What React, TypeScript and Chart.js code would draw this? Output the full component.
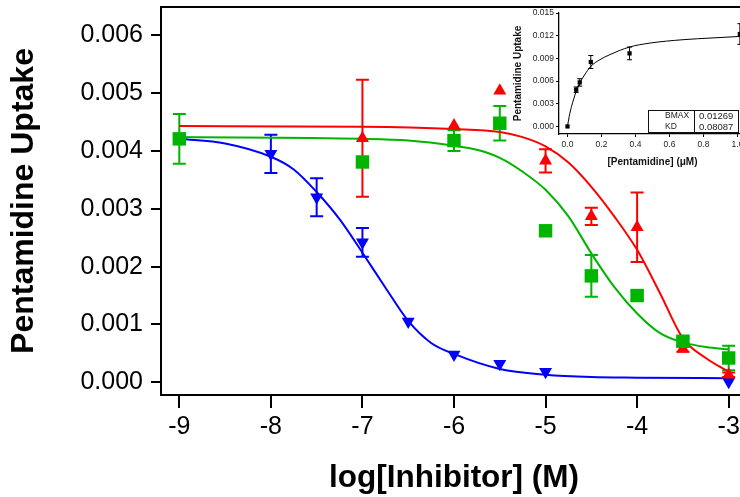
import React, { useEffect, useRef } from "react";
import { Chart, registerables } from "chart.js";

Chart.register(...registerables);

const FONT = '"Liberation Sans", Arial, Helvetica, sans-serif';

// ---------- Main chart: axes ----------
const xTickValues = [-9, -8, -7, -6, -5, -4, -3];
const yTickValues = [0, 0.001, 0.002, 0.003, 0.004, 0.005, 0.006];
const xTitle = "log[Inhibitor] (M)";
const yTitle = "Pentamidine Uptake";

// ---------- Red (triangle up) ----------
const redX = [-7, -6, -5.5, -5, -4.5, -4, -3.5, -3];
const redY = [0.00422, 0.00444, 0.00504, 0.00383, 0.00287, 0.00268, 0.00058, 0.00013];
const redErr = [0.00101, 0, 0, 0.0002, 0.00015, 0.0006, 0.00005, 0.00004];
const redFitX = [-9, -7, -6, -5.5, -5.25, -5, -4.75, -4.5, -4.25, -4, -3.75, -3.5, -3.25, -3];
const redFitY = [0.00443, 0.00442, 0.00438, 0.00433, 0.00424, 0.00408, 0.0038, 0.00338, 0.00287, 0.00229, 0.00154, 0.00076, 0.00042, 0.00018];

// ---------- Green (square) ----------
const greenX = [-9, -7, -6, -5.5, -5, -4.5, -4, -3.5, -3];
const greenY = [0.00421, 0.00381, 0.00418, 0.00448, 0.00262, 0.00184, 0.0015, 0.00071, 0.00042];
const greenErr = [0.00043, 0, 0.00018, 0.0003, 0.00006, 0.00036, 0.00008, 0.00007, 0.00021];
const greenFitX = [-9, -7, -6.5, -6, -5.75, -5.5, -5.25, -5, -4.75, -4.5, -4.25, -4, -3.75, -3.5, -3.25, -3];
const greenFitY = [0.00424, 0.00421, 0.00418, 0.00409, 0.00402, 0.00388, 0.00364, 0.00333, 0.00287, 0.00223, 0.00165, 0.00119, 0.00085, 0.00069, 0.00061, 0.00057];

// ---------- Blue (triangle down) ----------
const blueX = [-8, -7.5, -7, -6.5, -6, -5.5, -5, -3];
const blueY = [0.00395, 0.0032, 0.00242, 0.00105, 0.00048, 0.00032, 0.00018, 0.00001];
const blueErr = [0.00033, 0.00033, 0.00025, 0, 0, 0, 0, 0];
const blueFitX = [-9, -8.5, -8, -7.75, -7.5, -7.25, -7, -6.75, -6.5, -6.25, -6, -5.5, -5, -4.5, -4, -3];
const blueFitY = [0.00421, 0.00413, 0.0039, 0.00368, 0.00329, 0.00282, 0.00224, 0.00164, 0.00106, 0.00068, 0.00049, 0.00023, 0.00013, 0.00009, 0.00008, 0.00007];

// ---------- Inset ----------
const insetXTicks = [0, 0.2, 0.4, 0.6, 0.8, 1.0];
const insetYTicks = [0, 0.003, 0.006, 0.009, 0.012, 0.015];
const insetXTitle = "[Pentamidine] (\u03bcM)";
const insetYTitle = "Pentamidine Uptake";
const insetX = [0, 0.051, 0.072, 0.137, 0.365, 1.014];
const insetY = [0, 0.00486, 0.00582, 0.00852, 0.00966, 0.01222];
const insetErr = [0, 0.00036, 0.00049, 0.00086, 0.00084, 0.00137];
const insetFitX = [0, 0.01, 0.024, 0.051, 0.072, 0.1, 0.137, 0.19, 0.25, 0.365, 0.484, 0.68, 0.85, 1.03];
const insetFitY = [0, 0.00132, 0.00265, 0.00463, 0.00573, 0.0068, 0.00794, 0.00882, 0.0095, 0.0105, 0.01102, 0.01147, 0.0117, 0.01192];
const tableLabels = ["BMAX", "KD"];
const tableValues = ["0.01269", "0.08087"];

const RED = "#ff0000";
const GREEN = "#00b400";
const BLUE = "#0000ff";

const pts = (xs: number[], ys: number[]) => xs.map((x, i) => ({ x, y: ys[i] }));

type ErrSpec = { ds: number; err: number[]; color: string; width: number; cap: number };

const errorBarsPlugin = (specs: ErrSpec[]) => ({
  id: "errorBars",
  beforeDatasetsDraw(chart: any) {
    const { ctx, chartArea, scales } = chart;
    ctx.save();
    ctx.beginPath();
    ctx.rect(chartArea.left, chartArea.top, chartArea.right - chartArea.left, chartArea.bottom - chartArea.top);
    ctx.clip();
    for (const s of specs) {
      const data = chart.data.datasets[s.ds].data as { x: number; y: number }[];
      ctx.strokeStyle = s.color;
      ctx.lineWidth = s.width;
      data.forEach((p, i) => {
        const e = s.err[i];
        if (!e) return;
        const x = scales.x.getPixelForValue(p.x);
        const y1 = scales.y.getPixelForValue(p.y + e);
        const y2 = scales.y.getPixelForValue(p.y - e);
        ctx.beginPath();
        ctx.moveTo(x, y1);
        ctx.lineTo(x, y2);
        ctx.moveTo(x - s.cap, y1);
        ctx.lineTo(x + s.cap, y1);
        ctx.moveTo(x - s.cap, y2);
        ctx.lineTo(x + s.cap, y2);
        ctx.stroke();
      });
    }
    ctx.restore();
  },
});

const topFramePlugin = {
  id: "topFrame",
  afterDraw(chart: any) {
    const { ctx, chartArea } = chart;
    ctx.save();
    ctx.strokeStyle = "#000";
    ctx.lineWidth = 2;
    ctx.beginPath();
    ctx.moveTo(chartArea.left - 1, chartArea.top);
    ctx.lineTo(chartArea.right, chartArea.top);
    ctx.stroke();
    ctx.restore();
  },
};

const tablePlugin = {
  id: "fitTable",
  afterDraw(chart: any) {
    const { ctx } = chart;
    const left = 158, top = 110, w = 90, h = 22, div = 204;
    ctx.save();
    ctx.strokeStyle = "#111";
    ctx.lineWidth = 1;
    ctx.strokeRect(left + 0.5, top + 0.5, w, h);
    ctx.beginPath();
    ctx.moveTo(div + 0.5, top);
    ctx.lineTo(div + 0.5, top + h);
    ctx.stroke();
    ctx.fillStyle = "#222";
    ctx.textBaseline = "middle";
    ctx.textAlign = "left";
    tableLabels.forEach((t, i) => {
      ctx.font = `8.5px ${FONT}`;
      ctx.fillText(t, 175, 116 + i * 11);
      ctx.font = `9.5px ${FONT}`;
      ctx.fillText(tableValues[i], 209, 116 + i * 11);
    });
    ctx.restore();
  },
};

function mainConfig(): any {
  const tickFont = { family: FONT, size: 25 };
  const titleFont = { family: FONT, size: 31.5, weight: "bold" as const };
  return {
    type: "line",
    data: {
      datasets: [
        {
          data: pts(greenX, greenY), showLine: false, order: 1,
          pointStyle: "rect", pointRadius: 9.5, pointBackgroundColor: GREEN, pointBorderColor: GREEN, pointBorderWidth: 0,
        },
        {
          data: pts(redX, redY), showLine: false, order: 2,
          pointStyle: "triangle", pointRadius: 7.5, pointBackgroundColor: RED, pointBorderColor: RED, pointBorderWidth: 0,
        },
        {
          data: pts(blueX, blueY), showLine: false, order: 3,
          pointStyle: "triangle", pointRotation: 180, pointRadius: 7.5, pointBackgroundColor: BLUE, pointBorderColor: BLUE, pointBorderWidth: 0,
        },
        {
          data: pts(greenFitX, greenFitY), order: 4, borderColor: GREEN, borderWidth: 2, pointRadius: 0,
          cubicInterpolationMode: "monotone", fill: false,
        },
        {
          data: pts(redFitX, redFitY), order: 5, borderColor: RED, borderWidth: 2, pointRadius: 0,
          cubicInterpolationMode: "monotone", fill: false,
        },
        {
          data: pts(blueFitX, blueFitY), order: 6, borderColor: BLUE, borderWidth: 2, pointRadius: 0,
          cubicInterpolationMode: "monotone", fill: false,
        },
      ],
    },
    options: {
      animation: false,
      responsive: false,
      events: [],
      layout: { padding: { top: 7, right: 13, bottom: 0, left: 0 }, autoPadding: false },
      plugins: { legend: { display: false }, tooltip: { enabled: false } },
      scales: {
        x: {
          type: "linear",
          min: -9.2,
          max: -2.8,
          afterBuildTicks: (s: any) => { s.ticks = xTickValues.map((v) => ({ value: v })); },
          afterFit: (s: any) => { s.height = 102; s.paddingLeft = 0; s.paddingRight = 0; },
          ticks: { font: tickFont, color: "#000", padding: 4, maxRotation: 0, autoSkip: false, callback: (v: any) => String(v) },
          grid: { drawOnChartArea: false, drawTicks: true, tickLength: 13, lineWidth: 2, color: "#000" },
          border: { display: true, width: 2, color: "#000" },
          title: { display: true, text: xTitle, font: titleFont, color: "#000", padding: { top: 0, bottom: 0 } },
        },
        y: {
          type: "linear",
          min: -0.00022,
          max: 0.00649,
          afterBuildTicks: (s: any) => { s.ticks = yTickValues.map((v) => ({ value: v })); },
          afterFit: (s: any) => { s.width = 161; s.paddingTop = 0; s.paddingBottom = 0; },
          ticks: { font: tickFont, color: "#000", padding: 8, autoSkip: false, callback: (v: any) => Number(v).toFixed(3) },
          grid: { drawOnChartArea: false, drawTicks: true, tickLength: 10, lineWidth: 2, color: "#000" },
          border: { display: true, width: 2, color: "#000" },
          title: { display: true, text: yTitle, font: { family: FONT, size: 32, weight: "bold" }, color: "#000", padding: { top: 5, bottom: 0 } },
        },
      },
    },
    plugins: [
      errorBarsPlugin([
        { ds: 1, err: redErr, color: RED, width: 2, cap: 6.5 },
        { ds: 2, err: blueErr, color: BLUE, width: 2, cap: 6.5 },
        { ds: 0, err: greenErr, color: GREEN, width: 2, cap: 6.5 },
      ]),
      topFramePlugin,
    ],
  };
}

function insetConfig(): any {
  const tickFont = { family: FONT, size: 8.5 };
  const titleFont = { family: FONT, size: 10, weight: "bold" as const };
  return {
    type: "line",
    data: {
      datasets: [
        {
          data: pts(insetX, insetY), showLine: false, order: 1,
          pointStyle: "rect", pointRadius: 3, pointBackgroundColor: "#000", pointBorderColor: "#000", pointBorderWidth: 0,
        },
        {
          data: pts(insetFitX, insetFitY), order: 2, borderColor: "#000", borderWidth: 1, pointRadius: 0,
          cubicInterpolationMode: "monotone", fill: false,
        },
      ],
    },
    options: {
      animation: false,
      responsive: false,
      events: [],
      layout: { padding: { top: 13, right: 14, bottom: 0, left: 0 }, autoPadding: false },
      plugins: { legend: { display: false }, tooltip: { enabled: false } },
      scales: {
        x: {
          type: "linear",
          min: -0.05,
          max: 1.05,
          afterBuildTicks: (s: any) => { s.ticks = insetXTicks.map((v) => ({ value: v })); },
          afterFit: (s: any) => { s.height = 46; s.paddingLeft = 0; s.paddingRight = 0; },
          ticks: { font: tickFont, color: "#222", padding: 3, maxRotation: 0, autoSkip: false, callback: (v: any) => Number(v).toFixed(1) },
          grid: { drawOnChartArea: false, drawTicks: true, tickLength: 3, lineWidth: 1, color: "#000" },
          border: { display: true, width: 1.3, color: "#000" },
          title: { display: true, text: insetXTitle, font: titleFont, color: "#111", padding: { top: 0, bottom: 12 } },
        },
        y: {
          type: "linear",
          min: -0.001,
          max: 0.015,
          afterBuildTicks: (s: any) => { s.ticks = insetYTicks.map((v) => ({ value: v })); },
          afterFit: (s: any) => { s.width = 69; s.paddingTop = 0; s.paddingBottom = 0; },
          ticks: { font: tickFont, color: "#222", padding: 2, autoSkip: false, callback: (v: any) => Number(v).toFixed(3) },
          grid: { drawOnChartArea: false, drawTicks: true, tickLength: 3, lineWidth: 1, color: "#000" },
          border: { display: true, width: 1.3, color: "#000" },
          title: { display: true, text: insetYTitle, font: titleFont, color: "#111", padding: { top: 22, bottom: 0 } },
        },
      },
    },
    plugins: [
      errorBarsPlugin([{ ds: 0, err: insetErr, color: "#000", width: 1, cap: 2.5 }]),
      tablePlugin,
    ],
  };
}

export default function App() {
  const mainRef = useRef<HTMLCanvasElement>(null);
  const insetRef = useRef<HTMLCanvasElement>(null);

  useEffect(() => {
    const main = new Chart(mainRef.current as HTMLCanvasElement, mainConfig());
    const inset = new Chart(insetRef.current as HTMLCanvasElement, insetConfig());
    return () => {
      main.destroy();
      inset.destroy();
    };
  }, []);

  return (
    <div style={{ position: "absolute", left: 0, top: 0, width: 740, height: 497, overflow: "hidden", background: "#fff" }}>
      <canvas ref={mainRef} width={760} height={497} style={{ position: "absolute", left: 0, top: 0, width: 760, height: 497 }} />
      <canvas ref={insetRef} width={270} height={180} style={{ position: "absolute", left: 490, top: 0, width: 270, height: 180 }} />
    </div>
  );
}
